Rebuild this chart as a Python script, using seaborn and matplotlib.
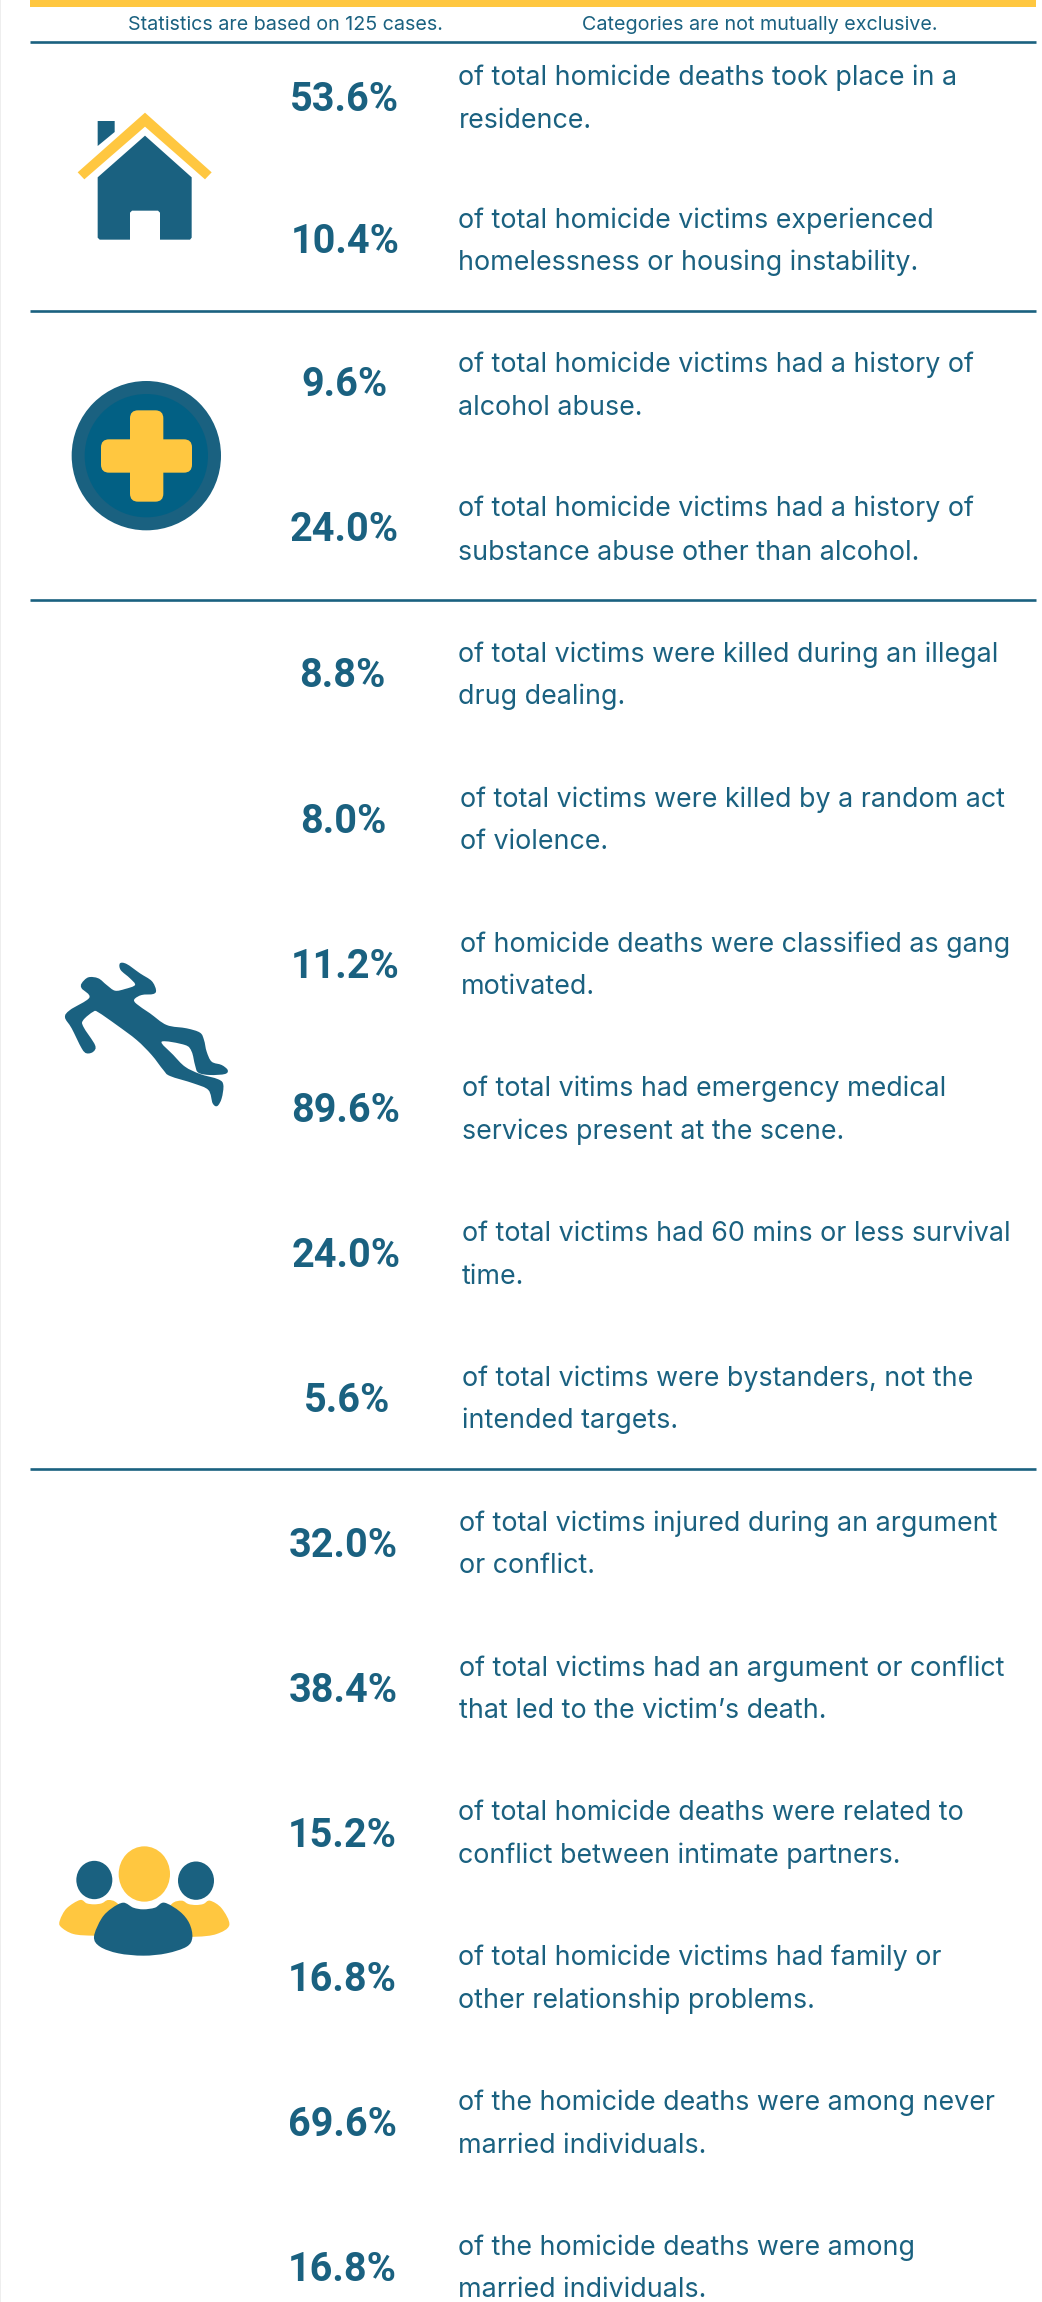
import numpy as np
import pandas as pd
import matplotlib.pyplot as plt
from matplotlib.path import Path
from matplotlib.patches import PathPatch, Polygon, Circle, Ellipse, Rectangle, FancyBboxPatch
import seaborn as sns

# ---- data ----
HEADER_LEFT = "Statistics are based on 125 cases."
HEADER_RIGHT = "Categories are not mutually exclusive."

PCT_VALUES = [53.6, 10.4, 9.6, 24.0, 8.8, 8.0, 11.2, 89.6, 24.0, 5.6,
              32.0, 38.4, 15.2, 16.8, 69.6, 16.8]

LINE_ONE = [
    "of total homicide deaths took place in a",
    "of total homicide victims experienced",
    "of total homicide victims had a history of",
    "of total homicide victims had a history of",
    "of total victims were killed during an illegal",
    "of total victims were killed by a random act",
    "of homicide deaths were classified as gang",
    "of total vitims had emergency medical",
    "of total victims had 60 mins or less survival",
    "of total victims were bystanders, not the",
    "of total victims injured during an argument",
    "of total victims had an argument or conflict",
    "of total homicide deaths were related to",
    "of total homicide victims had family or",
    "of the homicide deaths were among never",
    "of the homicide deaths were among",
]
LINE_TWO = [
    "residence.",
    "homelessness or housing instability.",
    "alcohol abuse.",
    "substance abuse other than alcohol.",
    "drug dealing.",
    "of violence.",
    "motivated.",
    "services present at the scene.",
    "time.",
    "intended targets.",
    "or conflict.",
    "that led to the victim\u2019s death.",
    "conflict between intimate partners.",
    "other relationship problems.",
    "married individuals.",
    "married individuals.",
]

# ---- layout, in pixels of the 1042x2302 picture ----
PCT_X = [345, 345.5, 344.5, 344.5, 342, 343, 345, 346, 346, 347, 343.5, 343.5, 342.5, 342.5, 342, 342.5]
PCT_Y = [97, 239, 382, 527, 673, 819, 964, 1108, 1253, 1398, 1543, 1688, 1833, 1977, 2122, 2267]
TEXT_X = [458.5, 458.5, 458.5, 458.5, 458.5, 459.5, 460.5, 462, 462, 462.5, 459, 459, 458.5, 458.5, 458.5, 458.5]
LINE1_Y = [76, 218.7, 363, 507, 653, 798, 943, 1087, 1232, 1377, 1522, 1667, 1811, 1956, 2101, 2246]
LINE2_Y = [119, 261, 406, 551, 695, 840, 985, 1130, 1275, 1419, 1564, 1709, 1854, 1999, 2144, 2288]
DIVIDERS = [41.7, 310.7, 600, 1469]

TEAL = "#1a6180"
DEEP_TEAL = "#026084"
YELLOW = "#ffc740"

TEXT_PT = 19.3
PCT_PT = 28.5
HEADER_PT = 14.2

W, H = 1042, 2302
RIGHT_EDGE = 1036


def crop(points, x0, y0):
    pts = np.array(points, dtype=float)
    return np.column_stack([x0 + pts[:, 0] / 3, y0 + pts[:, 1] / 3])


def smooth_patch(pts, color):
    # closed catmull-rom outline through the traced points
    n = len(pts)
    verts = [pts[0]]
    codes = [Path.MOVETO]
    for i in range(n):
        p0, p1, p2, p3 = pts[i - 1], pts[i], pts[(i + 1) % n], pts[(i + 2) % n]
        verts += [p1 + (p2 - p0) / 6, p2 - (p3 - p1) / 6, p2]
        codes += [Path.CURVE4] * 3
    return PathPatch(Path(verts, codes), facecolor=color, edgecolor="none")


def draw_house(ax):
    x0, y0 = 30, 70
    roof = [(345, 128), (545, 307), (525, 328), (345, 170), (163, 328), (143, 307)]
    body = [(345, 197), (485, 322), (485, 503), (480, 509), (390, 509), (390, 428), (384, 422),
            (306, 422), (300, 428), (300, 509), (209, 509), (203, 503), (203, 322)]
    chimney = [(203, 153), (254, 153), (254, 186), (203, 228)]
    ax.add_patch(Polygon(crop(chimney, x0, y0), closed=True, color=TEAL, lw=0))
    ax.add_patch(Polygon(crop(body, x0, y0), closed=True, color=TEAL, lw=0))
    ax.add_patch(Polygon(crop(roof, x0, y0), closed=True, color=YELLOW, lw=0))


def draw_cross(ax):
    x0, y0 = 30, 340
    cx, cy = crop([(349, 347)], x0, y0)[0]
    ax.add_patch(Circle((cx, cy), 224 / 3, color=TEAL, lw=0))
    ax.add_patch(Circle((cx, cy), 185 / 3, color=DEEP_TEAL, lw=0))
    r = 8
    for (left, top, right, bottom) in [(213, 298, 486, 398), (300, 211, 400, 485)]:
        x1, y1 = crop([(left, top)], x0, y0)[0]
        x2, y2 = crop([(right, bottom)], x0, y0)[0]
        ax.add_patch(FancyBboxPatch((x1 + r, y1 + r), x2 - x1 - 2 * r, y2 - y1 - 2 * r,
                                    boxstyle=f"round,pad={r},rounding_size={r}",
                                    facecolor=YELLOW, edgecolor="none"))


def draw_body(ax):
    outline = [(155, 190), (175, 172), (205, 175), (230, 195), (255, 212), (285, 207), (315, 195),
               (300, 175), (272, 150), (270, 130), (290, 132), (330, 160), (365, 183), (378, 210),
               (370, 222), (335, 225), (313, 238), (320, 252), (360, 280), (410, 315), (470, 325),
               (510, 338), (522, 360), (530, 395), (545, 425), (575, 435), (593, 450), (585, 462),
               (540, 465), (505, 458), (495, 435), (485, 395), (465, 375), (395, 365), (430, 405),
               (465, 440), (510, 462), (565, 478), (580, 495), (575, 535), (562, 558), (548, 550),
               (535, 510), (490, 490), (420, 468), (400, 450), (365, 405), (320, 360), (260, 315),
               (205, 277), (190, 275), (160, 300), (160, 320), (195, 375), (190, 395), (170, 400),
               (155, 385), (125, 325), (105, 292), (120, 270), (178, 233), (155, 205)]
    ax.add_patch(smooth_patch(crop(outline, 30, 920), TEAL))


def draw_people(ax):
    x0, y0 = 30, 1780
    left = [(150, 360), (170, 370), (192, 373), (215, 370), (235, 360), (262, 370), (300, 420),
            (250, 465), (190, 467), (130, 462), (92, 440), (90, 420), (110, 385)]
    right = [(425, 372), (455, 362), (475, 372), (498, 375), (520, 372), (540, 362), (575, 385),
             (598, 435), (560, 462), (500, 470), (440, 465), (400, 420)]
    middle = [(280, 368), (310, 383), (340, 388), (375, 383), (403, 368), (450, 395), (478, 430),
              (487, 472), (470, 500), (410, 520), (340, 527), (265, 520), (210, 500), (192, 470),
              (215, 415), (245, 385)]
    ax.add_patch(smooth_patch(crop(left, x0, y0), YELLOW))
    ax.add_patch(smooth_patch(crop(right, x0, y0), YELLOW))
    ax.add_patch(smooth_patch(crop(middle, x0, y0), TEAL))
    for (cx, cy, w, h, col) in [(193, 300, 108, 115, TEAL), (498, 302, 108, 115, TEAL), (343, 282, 154, 166, YELLOW)]:
        px, py = crop([(cx, cy)], x0, y0)[0]
        ax.add_patch(Ellipse((px, py), w / 3, h / 3, color=col, lw=0))


def main():
    sns.set_theme(style="white")
    fig = plt.figure(figsize=(W / 100, H / 100), dpi=100)
    ax = fig.add_axes([0, 0, 1, 1])

    ax.add_patch(Rectangle((29.5, 0), RIGHT_EDGE - 29.5, 7, color=YELLOW, lw=0))
    ax.add_patch(Rectangle((0, 0), 1.2, H, color="#eeeeee", lw=0))

    for y in DIVIDERS:
        lines = pd.DataFrame({"x": [29.5, RIGHT_EDGE], "y": [y, y]})
        sns.lineplot(data=lines, x="x", y="y", color=TEAL, linewidth=1.9, errorbar=None,
                     solid_capstyle="butt", ax=ax)

    ax.text(128.5, 30, HEADER_LEFT, color=TEAL, fontsize=HEADER_PT, family="Inter", va="baseline")
    ax.text(582.5, 30, HEADER_RIGHT, color=TEAL, fontsize=HEADER_PT, family="Inter", va="baseline")

    for i, value in enumerate(PCT_VALUES):
        ax.text(PCT_X[i], PCT_Y[i] + 14, f"{value:.1f}%", color=TEAL, fontsize=PCT_PT,
                family="Roboto", weight="bold", ha="center", va="baseline")
        ax.text(TEXT_X[i], LINE1_Y[i] + 9, LINE_ONE[i], color=TEAL, fontsize=TEXT_PT,
                family="Inter", va="baseline")
        ax.text(TEXT_X[i], LINE2_Y[i] + 9, LINE_TWO[i], color=TEAL, fontsize=TEXT_PT,
                family="Inter", va="baseline")

    draw_house(ax)
    draw_cross(ax)
    draw_body(ax)
    draw_people(ax)

    ax.set_xlim(0, W)
    ax.set_ylim(H, 0)
    ax.set_xlabel("")
    ax.set_ylabel("")
    sns.despine(ax=ax, left=True, bottom=True)
    ax.axis("off")
    fig.savefig("out.png", dpi=100, facecolor="white")
    plt.close(fig)


if __name__ == "__main__":
    main()
